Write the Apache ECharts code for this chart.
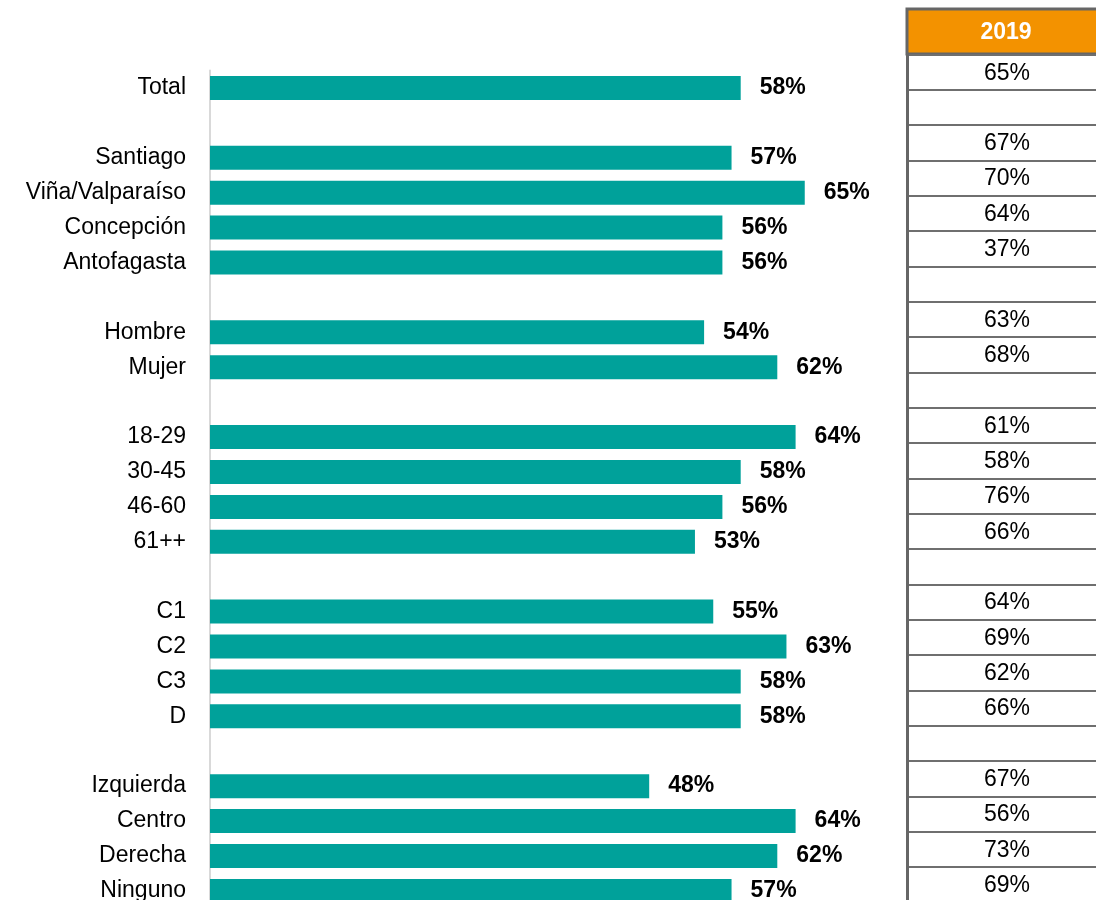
<!DOCTYPE html>
<html>
<head>
<meta charset="utf-8">
<script src="https://cdn.jsdelivr.net/npm/echarts@6/dist/echarts.min.js"></script>
<style>
  html, body { margin: 0; padding: 0; background: #fff; }
  #main { width: 1096px; height: 900px; }
</style>
</head>
<body>
<div id="main"></div>
<script>
// filas del gráfico ('' = fila vacía de separación)
const categories = ['Total', '', 'Santiago', 'Viña/Valparaíso', 'Concepción', 'Antofagasta', '',
  'Hombre', 'Mujer', '', '18-29', '30-45', '46-60', '61++', '',
  'C1', 'C2', 'C3', 'D', '', 'Izquierda', 'Centro', 'Derecha', 'Ninguno']
const values2020 = [58, null, 57, 65, 56, 56, null, 54, 62, null, 64, 58, 56, 53, null,
  55, 63, 58, 58, null, 48, 64, 62, 57]
const values2019 = [65, null, 67, 70, 64, 37, null, 63, 68, null, 61, 58, 76, 66, null,
  64, 69, 62, 66, null, 67, 56, 73, 69]
const tableHeader = '2019'

const rowH = 34.91      // alto de fila del gráfico de barras
const tableRowH = 35.33 // alto de fila de la tabla
const font = 'Liberation Sans, Arial, sans-serif'

const chart = echarts.init(document.getElementById('main'))
chart.setOption({
  animation: false,
  textStyle: { fontFamily: font },
  grid: [
    { left: 210, top: 70.5, width: 915, height: rowH * categories.length, outerBoundsMode: 'none' },
    { left: 907, top: 54.5, width: 200, height: tableRowH * categories.length, outerBoundsMode: 'none' }
  ],
  xAxis: [
    { gridIndex: 0, type: 'value', min: 0, max: 100, show: false },
    { gridIndex: 1, type: 'value', min: 0, max: 1, show: false }
  ],
  yAxis: [
    {
      gridIndex: 0,
      type: 'category',
      inverse: true,
      data: categories,
      axisLine: { show: true, lineStyle: { color: '#d9d9d9', width: 2 } },
      axisTick: { show: false },
      axisLabel: { color: '#000', fontSize: 23, margin: 24, fontFamily: font }
    },
    {
      gridIndex: 1,
      type: 'category',
      inverse: true,
      data: categories.map((c, i) => i),
      axisLine: { show: true, lineStyle: { color: '#666', width: 3 } },
      axisTick: { show: false },
      axisLabel: { show: false },
      splitLine: { show: true, lineStyle: { color: '#6f6f6f', width: 2 } }
    }
  ],
  graphic: [
    {
      type: 'rect',
      shape: { x: 907, y: 9, width: 200, height: 45 },
      style: { fill: '#F39200', stroke: '#666', lineWidth: 3 }
    },
    {
      type: 'text',
      x: 1006,
      y: 33,
      style: {
        text: tableHeader,
        fill: '#fff',
        font: 'bold 23px ' + font,
        textAlign: 'center',
        textVerticalAlign: 'middle'
      }
    }
  ],
  series: [
    {
      type: 'bar',
      xAxisIndex: 0,
      yAxisIndex: 0,
      data: values2020,
      barWidth: 24,
      itemStyle: { color: '#00A19A' },
      label: {
        show: true,
        position: 'right',
        distance: 19,
        color: '#000',
        fontWeight: 'bold',
        fontSize: 23,
        fontFamily: font,
        formatter: p => p.value == null ? '' : p.value + '%'
      }
    },
    {
      type: 'scatter',
      xAxisIndex: 1,
      yAxisIndex: 1,
      symbolSize: 0,
      itemStyle: { opacity: 1 },
      data: values2019.map((v, i) => [0.5, i, v]),
      label: {
        show: true,
        position: 'inside',
        offset: [0, 1],
        color: '#000',
        opacity: 1,
        fontSize: 23,
        fontFamily: font,
        formatter: p => p.value[2] == null ? '' : p.value[2] + '%'
      }
    }
  ]
})
</script>
</body>
</html>
